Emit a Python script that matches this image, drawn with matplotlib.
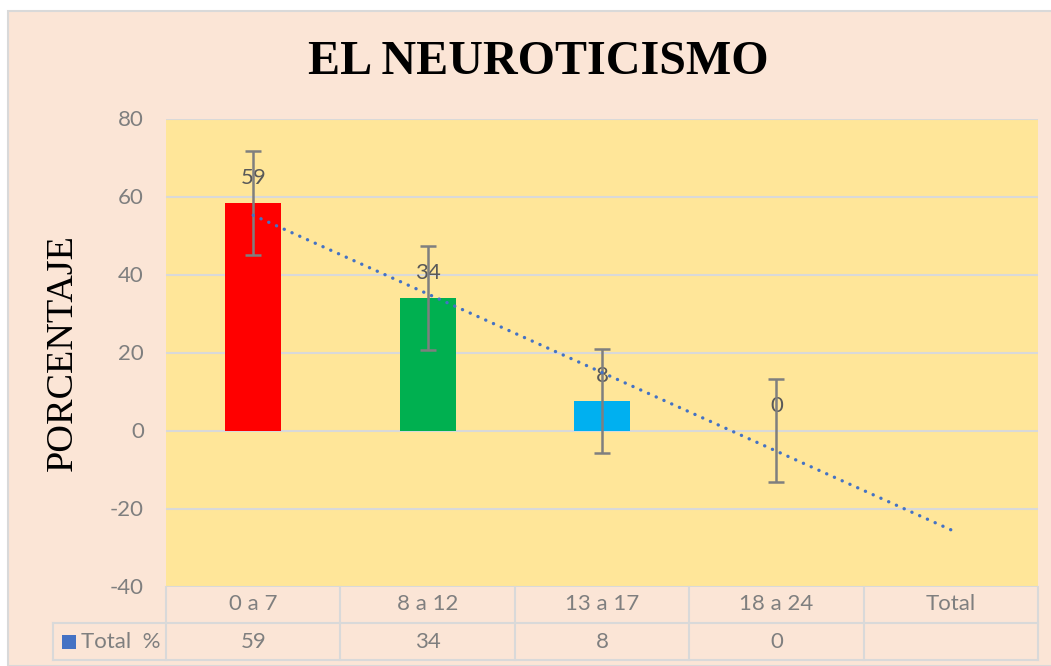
import numpy as np
import matplotlib
matplotlib.use("Agg")
import matplotlib.pyplot as plt
from matplotlib.patches import Rectangle
from matplotlib import transforms

# ---- data ----
categories = ["0 a 7", "8 a 12", "13 a 17", "18 a 24", "Total"]
values = [58.4, 33.9, 7.5, 0.0]          # bar heights (%)
value_labels = ["59", "34", "8", "0"]    # labels shown on chart / table
errors = [13.3, 13.3, 13.3, 13.3]
bar_colors = ["#FF0000", "#00B050", "#00B0F0", "#00B0F0"]
series_name = "Total  %"
yticks = [-40, -20, 0, 20, 40, 60, 80]

plt.rcParams['font.family'] = ['Lato', 'DejaVu Sans']
plt.rcParams['axes.unicode_minus'] = False

W, H = 1051, 666
def fx(px): return px / W
def fy(py): return 1 - py / H

peach = "#FBE5D6"
grid_c = "#D9D9D9"
txt_c = "#7F7F7F"

fig = plt.figure(figsize=(W / 100, H / 100), dpi=100)
fig.patch.set_facecolor("white")
fig.add_artist(Rectangle((fx(8), 0), 1.0, fy(10.5), transform=fig.transFigure,
                         facecolor=peach, edgecolor=grid_c, linewidth=1.5, zorder=0))

ax = fig.add_axes([fx(166), fy(586.5), fx(1038) - fx(166), fy(118.5) - fy(586.5)])
ax.set_facecolor("#FFE699")
for s in ax.spines.values():
    s.set_visible(False)
ax.set_xlim(-0.5, len(categories) - 0.5)
ax.set_ylim(-40, 80)
ax.set_xticks([])
ax.set_yticks(yticks)
ax.tick_params(axis='y', length=0, pad=16, labelsize=16, labelcolor=txt_c)
ax.set_axisbelow(True)
ax.yaxis.grid(True, color=grid_c, linewidth=1.5)

x = np.arange(len(values))
ax.bar(x, values, width=0.32, color=bar_colors, zorder=2)
ax.errorbar(x, values, yerr=errors, fmt='none', ecolor="#7F7F7F",
            elinewidth=1.8, capsize=6, capthick=1.8, zorder=4)

# linear trendline extended one period forward
coef = np.polyfit(x, values, 1)
xt = np.array([0, len(categories) - 1])
ax.plot(xt, np.polyval(coef, xt), color="#4472C4", lw=2.4,
        ls=(0, (0.05, 2.5)), dash_capstyle='round', zorder=5)

for i, (v, lab) in enumerate(zip(values, value_labels)):
    ax.annotate(lab, (i, v), xytext=(0, 18), textcoords='offset points',
                ha='center', va='center', fontsize=16, color="#595959", zorder=3)

# ---- data table ----
blend = transforms.blended_transform_factory(ax.transData, fig.transFigure)
y_top, y_mid, y_bot = fy(586.5), fy(623), fy(660)
for b in np.arange(-0.5, len(categories), 1.0):
    ax.plot([b, b], [y_top, y_bot], transform=blend, color=grid_c, lw=1.5, clip_on=False)
ax.plot([fx(53), fx(1038)], [y_mid, y_mid], transform=fig.transFigure, color=grid_c, lw=1.5, clip_on=False)
ax.plot([fx(53), fx(1038)], [y_bot, y_bot], transform=fig.transFigure, color=grid_c, lw=1.5, clip_on=False)
ax.plot([fx(53), fx(53)], [y_mid, y_bot], transform=fig.transFigure, color=grid_c, lw=1.5, clip_on=False)

for i, c in enumerate(categories):
    ax.text(i, fy(604), c, transform=blend, ha='center', va='center', fontsize=16, color=txt_c)
for i, lab in enumerate(value_labels):
    ax.text(i, fy(641.5), lab, transform=blend, ha='center', va='center', fontsize=16, color=txt_c)

fig.add_artist(Rectangle((fx(62), fy(648.5)), 14 / W, 14 / H, transform=fig.transFigure,
                         facecolor="#4472C4", edgecolor='none'))
fig.text(fx(81), fy(641.5), series_name, ha='left', va='center', fontsize=16, color=txt_c)

# ---- titles ----
fig.text(fx(538.5), fy(74.3), "EL NEUROTICISMO", ha='center', va='baseline',
         family='Liberation Serif', weight='bold', fontsize=34.6, color='black')
fig.text(fx(63), fy(352.5), "PORCENTAJE", rotation=90, ha='center', va='center',
         family='Liberation Serif', fontsize=27.5, color='black')

fig.savefig("out.png", dpi=100, facecolor=fig.get_facecolor())
